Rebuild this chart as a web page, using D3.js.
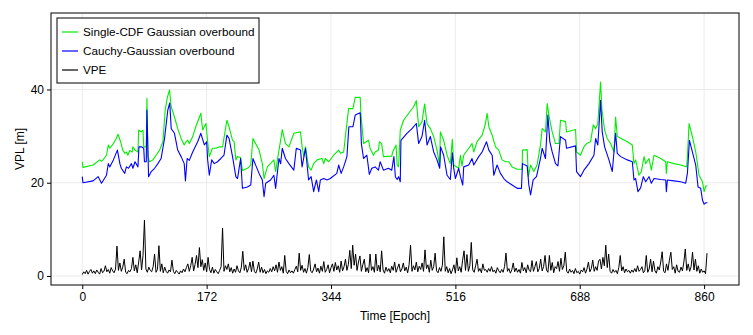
<!DOCTYPE html>
<html>
<head>
<meta charset="utf-8">
<script src="https://cdn.jsdelivr.net/npm/d3@7"></script>
<style>
  body { margin: 0; background: #fff; }
  svg { display: block; font-family: "Liberation Sans", Arial, sans-serif; }
</style>
</head>
<body>
<svg id="chart"></svg>
<script>
//--Data
var xTicks = [0, 172, 344, 516, 688, 860];
var yTicks = [0, 20, 40];
var seriesNames = ["Single-CDF Gaussian overbound", "Cauchy-Gaussian overbound", "VPE"];

//Single-CDF Gaussian overbound (vertices)
var greenEpoch = [0, 0.9, 15, 24, 27, 33.5, 36, 38, 43, 47, 49.5, 53, 56, 59, 61, 63, 65.6, 69, 70, 73, 77, 78, 81.6, 84, 85, 88.5, 89.4, 90.8, 93, 97.7,
  102, 107, 111.5, 114.7, 117.4, 120.6, 123, 127.5, 132, 136.7, 141, 143.6, 146, 148, 152.7, 157, 164, 166.5, 171, 173.4, 175.7, 180, 185, 189.4, 194,
  200, 203, 207.8, 210, 212.4, 214.7, 219, 221.5, 228.4, 233, 236, 244.5, 249, 251.4, 256, 265, 267.4, 270.6, 274.3, 276.6, 281, 285.8, 292.6, 301.8,
  304, 306.4, 308.7, 313, 316.5, 320, 324.8, 331.6, 334, 336, 340.8, 347.7, 354.6, 357, 361.5, 368.3, 374.3, 377.5, 384.4, 385.3, 389, 396, 398,
  402.7, 405, 409.6, 411, 414, 416.5, 428, 429.3, 434, 435.4, 437.5, 439.8, 444.4, 451.4, 458.3, 462, 465.2, 469.8, 473.5, 476.8, 481.4, 486, 490.6,
  494.3, 495.2, 499.8, 504.5, 509, 511.8, 513.7, 520.6, 523, 525.2, 527.5, 534.5, 539, 541.4, 546, 553, 557.6, 559.9, 562.3, 566.9, 571.5, 576, 580.6,
  585.2, 589.9, 594.5, 601.4, 608.3, 608.8, 615.3, 617, 620, 624.5, 629, 633.7, 636, 640.6, 643, 645.3, 649.9, 654.5, 659.2, 661.4, 668.4, 669.7,
  682.2, 683.6, 689, 693.8, 697.5, 703, 706.7, 710, 713, 716.8, 718.7, 722.4, 726, 730.7, 735.3, 737.6, 739.9, 753.8, 760.7, 763, 765.3, 769.9,
  773.2, 776.9, 779.2, 783.8, 787, 790.7, 800, 806.9, 807.8, 809.2, 818.4, 827.6, 835.9, 836.9, 839.2, 843.8, 848.4, 853, 857.7, 860, 862.3, 864.6];
var greenVpl = [24.5, 23.3, 23.8, 24.9, 24.6, 25.9, 28.1, 27.4, 28.4, 29.5, 30.4, 28.8, 27.0, 26.3, 26.6, 25.9, 26.9, 26.6, 27.7, 27.0, 26.6, 31.3, 30.9, 31.3, 27.7, 27.7, 38.1, 25.6, 24.5, 24.9,
  25.9, 27.0, 28.8, 35.6, 38.1, 39.9, 36.3, 34.1, 31.6, 29.5, 28.1, 28.8, 29.1, 28.4, 29.9, 32.0, 34.9, 31.3, 32.7, 28.8, 25.6, 27.4, 27.4, 27.7, 27.7,
  33.4, 32.0, 29.1, 28.8, 24.9, 25.6, 25.4, 22.6, 23.1, 23.8, 29.5, 27.0, 24.1, 20.9, 23.4, 24.9, 22.4, 25.6, 29.1, 31.4, 28.4, 27.7, 30.6, 30.9,
  27.7, 25.6, 27.7, 23.4, 22.7, 24.1, 24.9, 25.2, 24.1, 25.2, 24.5, 25.9, 27.0, 26.3, 26.6, 35.9, 35.9, 38.3, 38.3, 34.9, 28.4, 29.1, 27.4,
  25.9, 26.6, 27.0, 28.8, 28.4, 25.6, 25.7, 26.6, 28.1, 23.8, 23.4, 31.3, 33.4, 34.9, 36.3, 37.6, 32.0, 33.1, 36.9, 32.7, 31.6, 29.9, 27.0,
  23.6, 30.9, 29.1, 25.9, 24.1, 29.3, 23.8, 23.1, 25.9, 23.6, 25.9, 27.4, 28.4, 26.6, 28.8, 30.2, 32.7, 34.9, 32.0, 30.2, 27.7, 27.0, 24.9,
  24.5, 24.5, 23.4, 22.9, 22.9, 27.0, 27.1, 21.3, 23.8, 22.4, 23.8, 28.1, 31.6, 30.9, 37.0, 34.5, 30.9, 28.4, 28.4, 33.4, 33.1, 30.9,
  31.4, 26.6, 25.9, 27.7, 28.4, 28.8, 32.4, 31.6, 32.7, 41.6, 35.6, 31.3, 29.5, 28.4, 26.6, 34.1, 29.9, 28.8, 28.1, 24.1, 24.9, 21.6,
  22.4, 25.6, 24.1, 25.2, 22.7, 25.9, 25.2, 24.5, 22.0, 24.5, 24.1, 23.8, 23.4, 25.6, 32.7, 29.9, 26.6, 21.6, 20.2, 18.1, 19.3, 19.3];

//Cauchy-Gaussian overbound (vertices)
var blueEpoch = [0, 0.9, 15, 22, 26.6, 33.5, 36, 38, 43, 48.6, 52, 54, 58.7, 61, 64, 68, 70, 73, 77, 78.4, 81.6, 85, 86, 88.5, 89.4, 91.7, 95.4,
  100, 104.6, 109, 113.8, 118.3, 121, 123, 127.5, 132, 136.7, 141, 142.7, 145, 148, 152.7, 159.6, 164, 168.8, 172, 173.4, 175.7, 179, 182.6, 187,
  191.7, 196, 200, 203, 207.8, 212.4, 214.7, 219, 221.5, 228.4, 233, 236, 244.5, 249, 251.4, 253.7, 260.5, 265, 267.4, 272, 274.3, 276.6, 281,
  285.8, 292.6, 296, 301.8, 304, 308.7, 313, 316.5, 320, 323.8, 327, 329.3, 334, 338.5, 343, 352, 354.6, 358, 361.5, 366, 368.7, 374.3, 377.5,
  384.4, 386, 389, 393.6, 397, 400.4, 405, 409.6, 412, 416.5, 423.4, 428, 431, 433, 435.4, 437.5, 439.8, 440.7, 449, 456, 462, 465.2, 469.8,
  473.5, 476.8, 481.4, 486, 490.6, 494.3, 495.6, 499.8, 504.5, 509, 511.8, 513.7, 516, 520.6, 523, 526.2, 527.5, 534.5, 539, 541.4, 548.3, 553,
  559, 562.3, 566.9, 569.1, 573.7, 578.3, 583, 587.6, 594.5, 601.4, 607.4, 608.8, 615.3, 617.6, 620, 623.6, 628.2, 633.7, 636, 640.6, 643.9,
  646.6, 649.9, 654.5, 657.8, 661.4, 668.4, 669.7, 682.2, 683.6, 689, 693.8, 700.7, 707.6, 710, 713, 716.8, 719.1, 722.4, 728.4, 733, 737.6,
  739.9, 744.6, 753.8, 760.7, 763, 765.3, 768.5, 772.2, 775.9, 779.2, 783.8, 787, 790.7, 800, 806.9, 807.8, 809.2, 818.4, 827.6, 834.5, 836.9,
  839.7, 843.8, 848.4, 851.6, 855.3, 857.7, 860, 862.3, 864.6];
var blueVpl = [21.3, 20.0, 20.4, 21.3, 19.9, 21.6, 24.1, 23.4, 24.9, 27.0, 24.1, 23.1, 22.0, 23.4, 23.1, 24.1, 23.1, 24.5, 23.4, 27.7, 27.7, 27.4, 24.5, 24.5, 35.6, 21.3, 22.4,
  23.1, 24.1, 25.2, 29.5, 35.6, 37.1, 31.6, 30.6, 27.0, 25.6, 24.1, 20.4, 25.2, 24.8, 26.6, 28.8, 30.6, 28.1, 28.8, 24.9, 21.6, 24.9, 24.1, 24.5,
  25.2, 25.9, 30.2, 29.5, 25.6, 21.3, 20.9, 25.2, 18.8, 19.1, 19.5, 25.2, 22.0, 20.6, 17.0, 19.9, 20.6, 21.6, 18.8, 25.2, 24.1, 27.4, 25.2,
  24.1, 22.7, 27.4, 27.0, 23.4, 27.4, 20.6, 21.3, 18.1, 20.6, 18.1, 20.6, 20.9, 20.6, 20.9, 22.0, 23.8, 22.0, 23.4, 25.6, 32.0, 32.0, 34.5,
  35.0, 28.4, 25.2, 25.9, 21.8, 23.1, 23.4, 22.7, 24.5, 22.7, 23.1, 22.7, 25.6, 21.3, 20.7, 21.3, 20.2, 29.1, 30.6, 31.6, 32.7, 28.4, 29.9,
  33.4, 28.1, 29.9, 26.6, 24.9, 23.1, 27.7, 25.9, 21.6, 20.7, 26.4, 23.1, 20.9, 23.1, 21.3, 19.5, 23.4, 23.8, 25.2, 23.8, 25.6, 26.6,
  28.8, 27.0, 25.9, 21.6, 23.8, 22.0, 20.9, 20.2, 19.5, 18.8, 18.8, 24.1, 23.6, 19.5, 17.4, 20.6, 21.3, 25.2, 27.4, 25.2, 34.5,
  28.8, 26.6, 24.1, 23.6, 29.9, 29.1, 27.4, 27.9, 22.4, 21.3, 22.7, 24.1, 25.9, 29.5, 28.1, 37.7, 30.9, 27.7, 24.9, 22.4, 30.6,
  26.3, 25.6, 24.9, 24.5, 20.6, 20.9, 18.1, 18.9, 21.3, 20.2, 21.3, 19.9, 20.9, 20.7, 20.6, 18.1, 20.6, 20.4, 20.2, 19.9, 22.0,
  29.1, 26.6, 23.8, 19.1, 18.8, 16.3, 15.4, 15.7, 15.7];

//VPE, one value every 2 epochs from 0 to 864
var vpeValues = [0.3, 0.9, 0.5, 1.2, 0.4, 1.0, 1.4, 0.6, 1.1, 0.5, 1.3, 0.8, 0.4, 1.6, 0.7, 1.0, 2.2, 0.9, 1.4, 0.6, 1.8,
  1.1, 0.7, 1.5, 6.4, 1.2, 2.8, 1.0, 1.9, 3.6, 0.8,
  0.5, 1.2, 0.9, 1.6, 4.0, 1.1, 2.4, 0.7, 3.0, 5.4,
  1.3, 4.4, 12.0, 1.5, 0.8, 1.9, 1.2, 0.9, 2.0, 4.7,
  0.8, 1.4, 6.5, 1.0, 2.6, 0.7, 1.9, 1.0, 0.6, 1.3,
  0.9, 3.4, 1.0, 0.5, 1.2, 0.8, 0.4, 1.1, 0.7, 1.5,
  0.9, 1.8, 2.6, 1.0, 2.2, 4.0, 1.1, 2.5, 4.4, 1.8,
  6.1, 2.0, 3.5, 1.2, 2.8, 0.9, 4.0, 1.4, 0.7, 1.9,
  0.6, 1.4, 0.9, 0.5, 1.2, 2.0, 10.3, 1.0, 2.2, 1.4,
  2.6, 0.9, 1.8, 0.6, 1.5, 0.8, 2.2, 1.1, 0.7, 1.9,
  5.3, 1.2, 2.4, 0.8, 1.6, 3.0, 0.9, 3.2, 1.0, 0.6,
  1.5, 3.0, 0.8, 1.9, 0.7, 1.4, 0.5, 1.1, 0.8, 1.6,
  0.9, 2.0, 1.1, 2.4, 0.8, 3.0, 1.2, 2.0, 0.6, 4.4,
  1.0, 0.5, 1.3, 0.7, 1.1, 0.6, 1.4, 2.1, 0.9, 4.9,
  1.2, 2.3, 0.8, 1.6, 0.6, 1.8, 4.6, 1.0, 0.7, 1.5,
  2.6, 0.9, 1.7, 0.6, 2.1, 1.0, 3.1, 0.8, 1.4, 2.4,
  0.7, 1.8, 2.6, 1.0, 2.9, 1.3, 2.2, 0.8, 3.2, 1.1,
  2.0, 3.6, 1.2, 2.5, 5.5, 1.6, 6.6, 2.3, 4.7, 1.2,
  3.0, 4.3, 1.0, 2.4, 3.6, 0.9, 1.8, 0.7, 4.7, 1.2,
  2.0, 0.8, 4.7, 1.1, 2.3, 0.9, 5.4, 1.3, 0.6, 1.9,
  1.0, 1.6, 0.7, 2.1, 1.2, 3.0, 0.8, 1.7, 2.6, 0.9,
  1.5, 2.8, 1.1, 1.9, 0.7, 2.4, 6.6, 1.0, 2.2, 1.3,
  3.0, 0.9, 2.1, 1.4, 2.8, 1.0, 5.6, 1.6, 2.4, 0.8,
  3.4, 1.2, 2.0, 4.9, 1.1, 0.7, 1.8, 1.0, 2.3, 8.4,
  1.0, 2.0, 0.7, 1.6, 0.5, 1.3, 2.4, 0.6, 3.9, 1.1,
  2.0, 0.8, 3.4, 5.4, 1.2, 4.6, 1.0, 2.2, 7.2, 1.3,
  0.8, 2.2, 3.6, 1.0, 1.6, 0.7, 2.6, 1.2, 1.4, 0.8,
  1.6, 1.0, 2.0, 0.9, 1.3, 0.6, 1.8, 1.1, 0.7, 1.4,
  0.8, 2.0, 4.9, 1.0, 1.6, 0.6, 1.3, 2.8, 0.9, 1.7,
  0.8, 1.4, 0.6, 2.9, 1.1, 1.8, 0.7, 2.4, 1.2, 0.9,
  3.3, 1.0, 2.0, 3.1, 0.9, 1.6, 3.6, 1.1, 2.0, 4.4,
  1.3, 0.8, 4.4, 1.2, 2.9, 0.7, 2.0, 1.6, 3.1, 1.0,
  3.8, 1.4, 2.2, 5.1, 1.0, 0.6, 1.5, 0.8, 1.2, 0.5,
  1.6, 0.7, 1.0, 0.4, 1.3, 0.9, 1.8, 0.6, 1.5, 3.0,
  0.9, 1.6, 3.4, 1.0, 2.0, 1.2, 3.2, 3.6, 1.5, 4.0,
  2.2, 6.6, 1.8, 4.7, 1.0, 0.6, 1.4, 0.8, 1.2, 0.5,
  1.8, 4.4, 1.1, 2.0, 0.7, 1.5, 0.9, 1.2, 0.6, 1.3,
  0.8, 1.6, 0.9, 2.2, 1.0, 1.4, 2.0, 0.7, 1.1, 4.4,
  0.8, 1.5, 3.6, 0.9, 3.2, 1.1, 0.6, 2.0, 1.3, 3.0,
  5.2, 1.0, 0.7, 2.6, 1.2, 3.4, 5.1, 1.4, 2.0, 0.6,
  2.4, 1.0, 0.8, 1.9, 1.1, 3.0, 5.8, 1.2, 2.6, 1.0,
  2.0, 5.1, 1.3, 3.6, 1.0, 2.2, 0.6, 1.5, 0.8, 1.1, 0.5, 4.9];

//--Canvas
var canvas = {
  width: 753,
  height: 335,
  left: 51,
  right: 739,
  top: 13,
  bottom: 285,
  green: "#00ee00",
  blue: "#0000ff",
  black: "#000000",
  grid: "#ebebeb"
};
canvas.x = d3.scaleLinear().domain([-43.25, 908.25]).range([canvas.left, canvas.right]);
canvas.y = d3.scaleLinear().domain([-1.93, 56.4]).range([canvas.bottom, canvas.top]);

let root = d3
  .select("#chart")
  .attr("width", canvas.width)
  .attr("height", canvas.height);

//Grid
root.append("g")
  .selectAll("line")
  .data(xTicks)
  .enter()
  .append("line")
  .attr("x1", d => canvas.x(d))
  .attr("x2", d => canvas.x(d))
  .attr("y1", canvas.top)
  .attr("y2", canvas.bottom)
  .attr("stroke", canvas.grid);
root.append("g")
  .selectAll("line")
  .data(yTicks)
  .enter()
  .append("line")
  .attr("x1", canvas.left)
  .attr("x2", canvas.right)
  .attr("y1", d => canvas.y(d))
  .attr("y2", d => canvas.y(d))
  .attr("stroke", canvas.grid);

//Lines
let line = d3.line()
  .x(d => canvas.x(d[0]))
  .y(d => canvas.y(d[1]));

let plotArea = root.append("g");
plotArea.append("path")
  .datum(d3.zip(greenEpoch, greenVpl))
  .attr("fill", "none")
  .attr("stroke", canvas.green)
  .attr("stroke-width", 1.1)
  .attr("stroke-linejoin", "round")
  .attr("d", line);
plotArea.append("path")
  .datum(d3.zip(blueEpoch, blueVpl))
  .attr("fill", "none")
  .attr("stroke", canvas.blue)
  .attr("stroke-width", 1.1)
  .attr("stroke-linejoin", "round")
  .attr("d", line);
plotArea.append("path")
  .datum(vpeValues.map((v, i) => [i * 2, v]))
  .attr("fill", "none")
  .attr("stroke", canvas.black)
  .attr("stroke-width", 1)
  .attr("stroke-linejoin", "round")
  .attr("d", line);

//Axes
let xAxis = root.append("g")
  .attr("transform", "translate(0," + canvas.bottom + ")")
  .call(d3.axisBottom(canvas.x).tickValues(xTicks).tickSize(4).tickPadding(3));
let yAxis = root.append("g")
  .attr("transform", "translate(" + canvas.left + ",0)")
  .call(d3.axisLeft(canvas.y).tickValues(yTicks).tickSize(4).tickPadding(3));
[xAxis, yAxis].forEach(a => {
  a.select(".domain").remove();
  a.selectAll("text").style("font-size", "12px").attr("fill", "#000");
  a.selectAll("line").attr("stroke", "#000");
});

//Frame
root.append("rect")
  .attr("x", canvas.left)
  .attr("y", canvas.top)
  .attr("width", canvas.right - canvas.left)
  .attr("height", canvas.bottom - canvas.top)
  .attr("fill", "none")
  .attr("stroke", "#000")
  .attr("stroke-width", 1);

//Axis labels
root.append("text")
  .attr("x", (canvas.left + canvas.right) / 2)
  .attr("y", 320)
  .attr("text-anchor", "middle")
  .style("font-size", "12px")
  .text("Time [Epoch]");
root.append("text")
  .attr("transform", "translate(24," + (canvas.top + canvas.bottom) / 2 + ") rotate(-90)")
  .attr("text-anchor", "middle")
  .style("font-size", "12px")
  .text("VPL [m]");

//Legend
let legend = root.append("g").attr("transform", "translate(57,18)");
legend.append("rect")
  .attr("width", 202)
  .attr("height", 65)
  .attr("fill", "#fff")
  .attr("stroke", "#000")
  .attr("stroke-width", 1);
let legendColors = [canvas.green, canvas.blue, canvas.black];
let items = legend.selectAll(".item")
  .data(seriesNames)
  .enter()
  .append("g")
  .attr("transform", (d, i) => "translate(0," + (14 + i * 19) + ")");
items.append("line")
  .attr("x1", 5)
  .attr("x2", 21)
  .attr("stroke", (d, i) => legendColors[i])
  .attr("stroke-width", 1.2);
items.append("text")
  .attr("x", 26)
  .attr("dy", "0.35em")
  .style("font-size", "11.7px")
  .text(d => d);
</script>
</body>
</html>
